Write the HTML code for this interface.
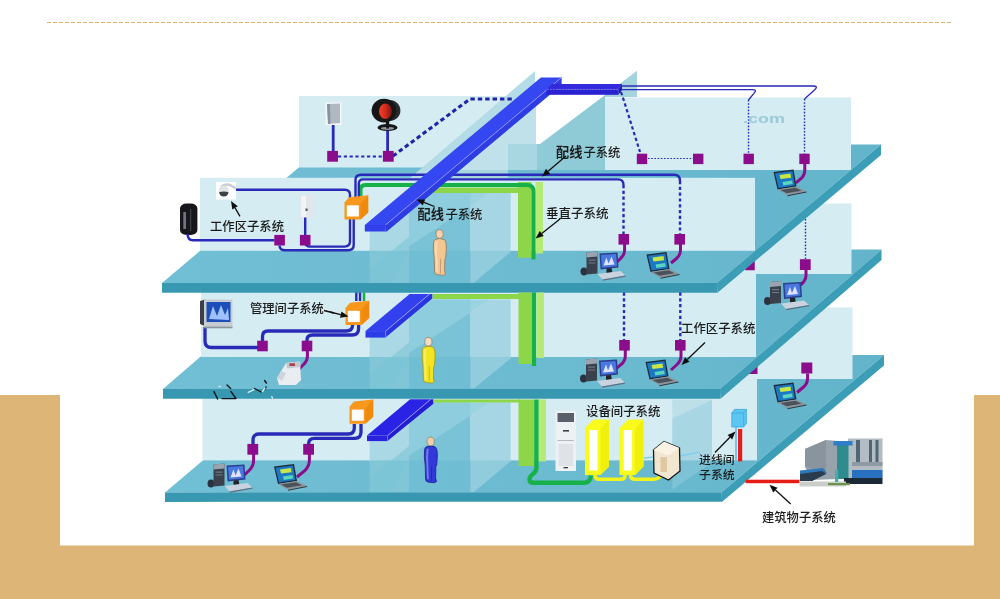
<!DOCTYPE html>
<html><head><meta charset="utf-8"><title>综合布线系统</title>
<style>html,body{margin:0;padding:0;background:#fff;font-family:"Liberation Sans",sans-serif}svg{display:block}</style>
</head><body>
<svg width="1000" height="599" viewBox="0 0 1000 599">
<defs><linearGradient id="gt145" gradientUnits="userSpaceOnUse" x1="160" y1="0" x2="885" y2="0"><stop offset="0" stop-color="#71BFD5"/><stop offset=".6" stop-color="#6BBAD0"/><stop offset="1" stop-color="#62B4CB"/></linearGradient><linearGradient id="gt249" gradientUnits="userSpaceOnUse" x1="160" y1="0" x2="885" y2="0"><stop offset="0" stop-color="#71BFD5"/><stop offset=".6" stop-color="#6BBAD0"/><stop offset="1" stop-color="#62B4CB"/></linearGradient><linearGradient id="gt355" gradientUnits="userSpaceOnUse" x1="160" y1="0" x2="885" y2="0"><stop offset="0" stop-color="#71BFD5"/><stop offset=".6" stop-color="#6BBAD0"/><stop offset="1" stop-color="#62B4CB"/></linearGradient><linearGradient id="redg" x1="0" y1="0" x2="1" y2="0"><stop offset="0" stop-color="#F0442C"/><stop offset=".5" stop-color="#D42A1C"/><stop offset="1" stop-color="#7E1712"/></linearGradient><filter id="soft" x="-2%" y="-2%" width="104%" height="104%"><feGaussianBlur stdDeviation="0.65"/></filter></defs>
<rect x="0" y="0" width="1000" height="599" fill="#fff"/>
<rect x="0" y="395" width="1000" height="204" fill="#DDB576" />
<rect x="60" y="300" width="914" height="245.5" fill="#fff" />
<line x1="47" y1="22.5" x2="953" y2="22.5" stroke="#DDB06A" stroke-width="1.2" stroke-dasharray="4 2"/>
<g filter="url(#soft)">
<polygon points="165,492.4 721.6,492.2 884,355 327.4,355.2" fill="url(#gt355)" />
<polygon points="884,355 884,365.5 722.1,501.7 721.6,492.2" fill="#3A9DB6" />
<polygon points="165,492.4 721.6,492.2 722.1,501.7 165,501.9" fill="#3898B1" />
<rect x="700" y="307.5" width="152.5" height="71.5" fill="#D4ECF2" />
<rect x="202.5" y="357" width="554.5" height="103.4" fill="#D4ECF2" />
<rect x="748.5" y="365" width="9" height="9" fill="#8C0A8C" />
<polygon points="163,389 720,389 881.5,249.5 324.5,249.5" fill="url(#gt249)" />
<polygon points="881.5,249.5 881.5,260 720.5,398.8 720,389" fill="#3A9DB6" />
<polygon points="163,389 720,389 720.5,398.8 163,398.8" fill="#3898B1" />
<rect x="700" y="203.5" width="151.5" height="70.5" fill="#D4ECF2" />
<rect x="201" y="252" width="555" height="105" fill="#D4ECF2" />
<rect x="745.25" y="260.75" width="9.5" height="9.5" fill="#8C0A8C" />
<polygon points="162,283 717,283 881,144.5 326,144.5" fill="url(#gt145)" />
<polygon points="881,144.5 881,155 717.5,292.7 717,283" fill="#3A9DB6" />
<polygon points="162,283 717,283 717.5,292.7 162,292.7" fill="#3898B1" />
<rect x="299" y="96" width="237" height="71.5" fill="#D4ECF2" />
<rect x="605" y="97.5" width="246" height="72.5" fill="#D4ECF2" />
<rect x="200" y="177.8" width="555" height="73" fill="#D4ECF2" />
<!--DETAIL-->
<polygon points="536,106.5 536,170 460,170" fill="#C0E1EA" />
<polygon points="441,170 508,170 508,178 431.5,178" fill="#A6D5E0" />
<polygon points="637,71 637,97 605,97 605,170 508,170 508,144 540,144" fill="#8FCAD7" />
<rect x="508" y="144" width="29" height="26" fill="#A9D7E1" />
<polygon points="637,71 637,97 605,97" fill="#A6D4DE" />
<polygon points="535,71 535,98 440,178 410,178" fill="#B4DCE6" />
<polygon points="369.6,282.8 369.6,231 409,199 409,282.8" fill="rgba(142,203,218,.60)" />
<rect x="409" y="193" width="61.4" height="89.8" fill="rgba(112,190,211,.90)" />
<polygon points="409,193 490.6,193 470.4,206.2 409,246.3" fill="rgba(146,207,222,.85)" />
<polygon points="369.6,282.8 369.6,268.8 409,236.8 409,252.8 391.6,282.8" fill="rgba(120,196,214,.55)" />
<polygon points="470.4,206.2 490.6,193 510.7,193 510.7,251.8 473.9,282.8 470.4,282.8" fill="rgba(154,209,224,.80)" />
<rect x="432" y="187.5" width="87" height="5.5" fill="#8ED64A" />
<rect x="518" y="182" width="13.5" height="75.7" fill="#8ED64A" />
<rect x="535.5" y="182" width="7.5" height="71.5" fill="#B4EA74" />
<path d="M360.5 196 L360.5 190 Q360.5 185 365.5 185 L527 185 Q533.5 185 533.5 191.5 L533.5 259.5" fill="none" stroke="#18B24A" stroke-width="4" />
<path d="M355.5 200 L355.5 180 Q355.5 174.8 361 174.8 L674 174.8 Q680 174.8 680 181" fill="none" stroke="#2A2AB8" stroke-width="2.4" />
<path d="M358.8 200 L358.8 184 Q358.8 179.4 363 179.4 L618 179.4 Q623.5 179.4 623.5 185" fill="none" stroke="#2A2AB8" stroke-width="2.4" />
<path d="M680 181 L680 235" fill="none" stroke="#2A2AB8" stroke-width="2.4" stroke-dasharray="3.2 2.6"/>
<path d="M623.5 185 L623.5 235" fill="none" stroke="#2A2AB8" stroke-width="2.4" stroke-dasharray="3.2 2.6"/>
<polygon points="364.8,225 385.5,225 561.634,77.4 540.934,77.4" fill="#3447F0" />
<polygon points="385.5,225 386.8,231.5 562.814,84 561.634,84 561.634,77.4" fill="#2E3CE2" />
<line x1="385.5" y1="225" x2="561.634" y2="77.4" stroke="#8c8cff" stroke-width="1"/>
<rect x="364.8" y="225" width="20.7" height="6.5" fill="#3040EA" />
<polygon points="385.5,225 386.8,225.5 386.8,231.5 385.5,231.5" fill="#2a2ed6" />
<polygon points="552,84 622,84 618.5,89.4 546.5,89.4" fill="#3329DC" />
<rect x="546.5" y="89.4" width="72" height="5.4" fill="#2A20D0" />
<polygon points="618.5,89.4 622,84 622,90 618.5,94.8" fill="#2218B4" />
<line x1="547" y1="89.4" x2="618.5" y2="89.4" stroke="#7a76f4" stroke-width=".8" stroke-dasharray="2 1"/>
<path d="M621 86 L813 86 Q818.5 86 815 89.5 L804.5 99" fill="none" stroke="#2A2AB8" stroke-width="1.3" />
<path d="M621 89.6 L752 89.6 Q757.5 89.6 754.5 92.6 L748.5 100" fill="none" stroke="#2A2AB8" stroke-width="1.3" />
<path d="M804.5 99 L804.5 154" fill="none" stroke="#2A2AB8" stroke-width="1.4" stroke-dasharray="1.6 1.6"/>
<path d="M748.5 100 L748.5 154" fill="none" stroke="#2A2AB8" stroke-width="1.4" stroke-dasharray="1.6 1.6"/>
<path d="M621 92 L624 101 L640 152" fill="none" stroke="#2A2AB8" stroke-width="2.2" stroke-dasharray="3.4 2.6"/>
<path d="M648 158.5 L693 158.5" fill="none" stroke="#2A2AB8" stroke-width="1.2" stroke-dasharray="1.6 1.6"/>
<rect x="636.8" y="153.7" width="10.4" height="10.4" fill="#8C0A8C" />
<rect x="693" y="153.7" width="10.4" height="10.4" fill="#8C0A8C" />
<rect x="743.5" y="153.7" width="10.4" height="10.4" fill="#8C0A8C" />
<rect x="799.3" y="153.7" width="10.4" height="10.4" fill="#8C0A8C" />
<text x="743" y="123" font-family="Liberation Sans, sans-serif" font-weight="bold" font-size="13.5" fill="#9CC9D8" textLength="42" lengthAdjust="spacingAndGlyphs">.com</text>
<rect x="325.5" y="102.5" width="16" height="22.5" fill="#f4f8fa" />
<polygon points="327,104 340,103.5 340,123 328,124" fill="#AEB9C2" />
<polygon points="327,104 330,104 330.5,123.8 328,124" fill="#8594A0" />
<path d="M333.2 125 L333.2 152" fill="none" stroke="#2A2AB8" stroke-width="2.8" />
<ellipse cx="389.6" cy="110.6" rx="10.8" ry="10.6" fill="#2b2b2f"/>
<ellipse cx="384" cy="110.6" rx="12.4" ry="11.9" fill="#141416"/>
<ellipse cx="385.4" cy="111.2" rx="6.4" ry="7.8" fill="url(#redg)"/>
<rect x="385.8" y="120.5" width="3.4" height="7" fill="#141416" />
<ellipse cx="387.5" cy="127.5" rx="10" ry="3.6" fill="#19191b"/>
<ellipse cx="387.5" cy="128.4" rx="6.6" ry="1.5" fill="#8f989f"/>
<rect x="386.3" y="124" width="2.6" height="4.6" fill="#141416" />
<path d="M387.6 131 L387.6 152" fill="none" stroke="#2A2AB8" stroke-width="2.8" />
<path d="M338 156.4 L383 156.4" fill="none" stroke="#2A2AB8" stroke-width="2" stroke-dasharray="3.2 2.6"/>
<path d="M393 156 L470 99 L513 99" fill="none" stroke="#2323A6" stroke-width="3.1" stroke-dasharray="4.4 3"/>
<rect x="327.2" y="150.9" width="10.8" height="10.8" fill="#8C0A8C" />
<rect x="382.9" y="150.9" width="10.8" height="10.8" fill="#8C0A8C" />
<rect x="216" y="182" width="20" height="17.5" fill="#fbfdfe" />
<path d="M221 187 Q227 181.5 235.5 188.5" fill="none" stroke="#c9cdd2" stroke-width="2.4" />
<ellipse cx="223.8" cy="190.8" rx="5" ry="5.2" fill="#dfe2e6"/>
<path d="M219 192.2 Q223.8 190.6 228.6 192.2 Q227.8 196.4 223.8 196.4 Q219.8 196.4 219 192.2Z" fill="#3d4148"/>
<path d="M236 189.7 L345 189.7 Q350 189.7 350 195 L350 241 Q350 246.6 344.5 246.6 L310.5 246.6 Q305.2 246.6 305.2 242" fill="none" stroke="#2A2AB8" stroke-width="2.4" />
<path d="M353.7 218 L353.7 245 Q353.7 250.3 348 250.3 L285 250.3 Q279.6 250.3 279.6 245.5" fill="none" stroke="#2A2AB8" stroke-width="2.4" />
<rect x="180" y="203.5" width="17.4" height="31.5" rx="6.5" ry="5" fill="#16181b"/>
<rect x="183.3" y="212" width="2.7" height="17" fill="#6f757c" />
<rect x="190" y="209" width="1.2" height="22" fill="#3b4046" />
<path d="M187.6 234 Q187.6 240.2 193 240.2 L274.5 240.2" fill="none" stroke="#2A2AB8" stroke-width="2.4" />
<rect x="300" y="195" width="14" height="23" fill="#E2E6EB" />
<rect x="301" y="196" width="5" height="21" fill="#F2F5F8" />
<rect x="305.5" y="208.5" width="2.1" height="2.5" fill="#555c66" />
<path d="M305.2 217.5 L305.2 236" fill="none" stroke="#2A2AB8" stroke-width="2.4" />
<rect x="274.3" y="234.9" width="10.6" height="10.6" fill="#8C0A8C" />
<rect x="299.9" y="234.9" width="10.6" height="10.6" fill="#8C0A8C" />
<g transform="translate(344 195)">
<polygon points="0.5,7.5 5,2.2 24.2,0.3 24.2,17.5 16.5,24.5 0.5,24.5" fill="#F7971C" />
<polygon points="16.5,9 24.2,0.3 24.2,17.5 16.5,24.5" fill="#F08A10" />
<rect x="2.8" y="10.3" width="12" height="11.2" fill="#ffffff" />
</g>
<rect x="618.5" y="234" width="10.6" height="10.6" fill="#8C0A8C" />
<rect x="674.4" y="234" width="10.6" height="10.6" fill="#8C0A8C" />
<path d="M624.6 244 L624.6 250 Q624.6 255 620.5 258.5 L616.5 262.5" fill="none" stroke="#8C0A8C" stroke-width="3" />
<path d="M680.5 244 L680.5 250 Q680.5 255 676.5 258.5 L671 263" fill="none" stroke="#8C0A8C" stroke-width="3" />
<g transform="translate(580.5 251.5)">
<ellipse cx="3.5" cy="20" rx="3.5" ry="4" fill="#2b3340"/>
<polygon points="6,1 17,0 17,22 6,23" fill="#3b414d" />
<polygon points="6,1 17,0 17,5 6,6" fill="#9aa3b0" />
<rect x="8" y="8" width="7" height="1.2" fill="#707988" />
<rect x="8" y="11" width="7" height="1" fill="#707988" />
<polygon points="19,2 37,1 38,16 20,18" fill="#2b3f8f" />
<polygon points="20.5,3.5 35.5,2.5 36.5,14.5 21.5,16.2" fill="#4a78e0" />
<polygon points="23,14 26,6 28,12 31,5 34,13" fill="#dfe3ff" />
<polygon points="26,17 31,16.5 32,22 26,22.5" fill="#20242c" />
<polygon points="17,22.5 40,19.5 45,24 22,28" fill="#c9d3df" />
<polygon points="22,28 45,24 45,25.2 22,29.2" fill="#5f6f82" />
</g>
<g transform="translate(646.5 252)">
<polygon points="0,2.5 20,0 23,17 4,20" fill="#1f2a3a" />
<polygon points="1.5,3.8 19,1.6 21.4,16 5,18.6" fill="#1d78c0" />
<polygon points="6,5.5 17,4 17.6,8.2 7,9.6" fill="#c9e64a" />
<polygon points="9,12.4 18.6,11 19.2,14.6 9.8,16" fill="#58d6c0" />
<polygon points="4,20 23,17 33,22 14,25.8" fill="#8c949c" />
<polygon points="7,20.6 22,18.3 28,21.2 13,23.8" fill="#4b525a" />
<polygon points="14,25.8 33,22 33,23 14,26.8" fill="#30353b" />
</g>
<path d="M804.8 164 L804.8 170 Q804.8 175.5 800.5 179 L796 183" fill="none" stroke="#8C0A8C" stroke-width="3" />
<g transform="translate(773.5 169.5)">
<polygon points="0,2.5 20,0 23,17 4,20" fill="#1f2a3a" />
<polygon points="1.5,3.8 19,1.6 21.4,16 5,18.6" fill="#1d78c0" />
<polygon points="6,5.5 17,4 17.6,8.2 7,9.6" fill="#c9e64a" />
<polygon points="9,12.4 18.6,11 19.2,14.6 9.8,16" fill="#58d6c0" />
<polygon points="4,20 23,17 33,22 14,25.8" fill="#8c949c" />
<polygon points="7,20.6 22,18.3 28,21.2 13,23.8" fill="#4b525a" />
<polygon points="14,25.8 33,22 33,23 14,26.8" fill="#30353b" />
</g>
<g transform="translate(432 229.6)">
<path d="M3 10 Q7.5 7.6 12.4 10 Q14.6 12 14.3 20 L13.7 28 L12.9 29.4 L12.6 41 L13.6 44.4 Q12 46.2 9 45.6 L4.6 44.9 Q2.5 44.5 2.6 42 L2.2 28 Q0.8 20 1.5 13 Q2 10.6 3 10Z" fill="#F6C690" stroke="#8a7660" stroke-width=".8"/>
<path d="M3.6 12 Q2.6 20 3.6 30 L4 42 L5.8 42.5 L5.4 30 Q4.6 20 5.6 11.4Z" fill="rgba(255,255,255,.35)"/>
<path d="M8.6 29 L8.4 44" stroke="#8a7660" stroke-width=".5" fill="none"/>
<ellipse cx="7.6" cy="4.4" rx="3.6" ry="4.3" fill="#F8D2A8" stroke="#8c7a66" stroke-width=".7"/>
</g>
<polygon points="369.6,388.6 369.6,337.6 409,305.6 409,388.6" fill="rgba(142,203,218,.60)" />
<rect x="409" y="299.6" width="61.4" height="89" fill="rgba(112,190,211,.90)" />
<polygon points="409,299.6 490.6,299.6 470.4,312.8 409,352.9" fill="rgba(146,207,222,.85)" />
<polygon points="369.6,388.6 369.6,374.6 409,342.6 409,358.6 391.6,388.6" fill="rgba(120,196,214,.55)" />
<polygon points="470.4,312.8 490.6,299.6 510.7,299.6 510.7,358.4 473.9,388.6 470.4,388.6" fill="rgba(154,209,224,.80)" />
<rect x="432.5" y="294" width="86.5" height="5" fill="#8ED64A" />
<rect x="518.5" y="292.5" width="13.5" height="71.5" fill="#8ED64A" />
<rect x="536.5" y="292.5" width="7.5" height="65.5" fill="#B4EA74" />
<path d="M534 292.5 L534 366" fill="none" stroke="#18B24A" stroke-width="4.2" />
<path d="M356.3 292.5 L356.3 301" fill="none" stroke="#2A2AB8" stroke-width="2.4" />
<path d="M360 292.5 L360 301" fill="none" stroke="#2A2AB8" stroke-width="2.4" />
<path d="M364 292.5 L364 301" fill="none" stroke="#18B24A" stroke-width="2.6" />
<polygon points="365.5,331.1 385.6,331.1 429.714,294 409.614,294" fill="#3040EE" />
<polygon points="385.6,331.1 385.6,337.6 388.2,335.3 432.314,298.4 432.314,294 429.714,294" fill="#2A36E0" />
<line x1="385.6" y1="331.1" x2="429.714" y2="294" stroke="#9aa2ff" stroke-width=".9"/>
<rect x="365.5" y="331.1" width="20.1" height="6.5" fill="#2C3AE8" />
<line x1="385.6" y1="331.1" x2="385.6" y2="337.6" stroke="#8890ff" stroke-width=".7"/>
<path d="M624 292.5 L624 341" fill="none" stroke="#2A2AB8" stroke-width="2.4" stroke-dasharray="3.2 2.6"/>
<path d="M680.3 292.5 L680.3 341" fill="none" stroke="#2A2AB8" stroke-width="2.4" stroke-dasharray="3.2 2.6"/>
<rect x="619.2" y="340" width="10.6" height="10.6" fill="#8C0A8C" />
<rect x="675" y="340" width="10.6" height="10.6" fill="#8C0A8C" />
<path d="M625.3 350 L625.3 356 Q625.3 361 621 364.5 L616.5 368.5" fill="none" stroke="#8C0A8C" stroke-width="3" />
<path d="M681 350 L681 356 Q681 361 676.5 365 L671 370" fill="none" stroke="#8C0A8C" stroke-width="3" />
<g transform="translate(580 358.5)">
<ellipse cx="3.5" cy="20" rx="3.5" ry="4" fill="#2b3340"/>
<polygon points="6,1 17,0 17,22 6,23" fill="#3b414d" />
<polygon points="6,1 17,0 17,5 6,6" fill="#9aa3b0" />
<rect x="8" y="8" width="7" height="1.2" fill="#707988" />
<rect x="8" y="11" width="7" height="1" fill="#707988" />
<polygon points="19,2 37,1 38,16 20,18" fill="#2b3f8f" />
<polygon points="20.5,3.5 35.5,2.5 36.5,14.5 21.5,16.2" fill="#4a78e0" />
<polygon points="23,14 26,6 28,12 31,5 34,13" fill="#dfe3ff" />
<polygon points="26,17 31,16.5 32,22 26,22.5" fill="#20242c" />
<polygon points="17,22.5 40,19.5 45,24 22,28" fill="#c9d3df" />
<polygon points="22,28 45,24 45,25.2 22,29.2" fill="#5f6f82" />
</g>
<g transform="translate(645.5 359.5)">
<polygon points="0,2.5 20,0 23,17 4,20" fill="#1f2a3a" />
<polygon points="1.5,3.8 19,1.6 21.4,16 5,18.6" fill="#1d78c0" />
<polygon points="6,5.5 17,4 17.6,8.2 7,9.6" fill="#c9e64a" />
<polygon points="9,12.4 18.6,11 19.2,14.6 9.8,16" fill="#58d6c0" />
<polygon points="4,20 23,17 33,22 14,25.8" fill="#8c949c" />
<polygon points="7,20.6 22,18.3 28,21.2 13,23.8" fill="#4b525a" />
<polygon points="14,25.8 33,22 33,23 14,26.8" fill="#30353b" />
</g>
<path d="M205 327 L205 341 Q205 347.5 211.5 347.5 L258 347.5" fill="none" stroke="#2A2AB8" stroke-width="3.3" />
<path d="M262.5 342 L262.5 336.5 Q262.5 331 268 331 L346 331 Q352.6 331 352.6 325" fill="none" stroke="#2A2AB8" stroke-width="3.3" />
<path d="M307 342 L307 340 Q307 335 312.5 335 L352 335 Q358.6 335 358.6 328.5 L358.6 325" fill="none" stroke="#2A2AB8" stroke-width="3.3" />
<rect x="257.2" y="340.7" width="10.6" height="10.6" fill="#8C0A8C" />
<rect x="301.7" y="340.7" width="10.6" height="10.6" fill="#8C0A8C" />
<path d="M307.4 351 L307.4 356 Q307.4 361 303.5 364.5 L298 370" fill="none" stroke="#8C0A8C" stroke-width="3" />
<polygon points="200,301 205,299.5 205,326 200,324" fill="#3a3f46" />
<rect x="204" y="299.5" width="28.5" height="27" fill="#c7ccd3" />
<rect x="206.5" y="302" width="24" height="20" fill="#1b4fb8" />
<polygon points="209,319 213,306 217,316 221,305 225,315 228,308 229,320" fill="#9fc2ff" />
<rect x="204" y="326.5" width="28.5" height="1.8" fill="#8d949c" />
<polygon points="277,378 286,363 300,361.5 301,380 296,385 279,385" fill="#e9edf1" />
<polygon points="286,363 300,361.5 300.5,367 287,368.5" fill="#c2c9d1" />
<rect x="289.5" y="363.3" width="5.5" height="2.7" fill="#b03a4a" />
<polygon points="277,378 281,371 286,373 282,381" fill="#cfd5dc" />
<g transform="translate(345 300.5)">
<polygon points="0.5,7.5 5,2.2 24.2,0.3 24.2,17.5 16.5,24.5 0.5,24.5" fill="#F7971C" />
<polygon points="16.5,9 24.2,0.3 24.2,17.5 16.5,24.5" fill="#F08A10" />
<rect x="2.8" y="10.3" width="12" height="11.2" fill="#ffffff" />
</g>
<g transform="translate(420.8 337.3)">
<path d="M3 10 Q7.5 7.6 12.4 10 Q14.6 12 14.3 20 L13.7 28 L12.9 29.4 L12.6 41 L13.6 44.4 Q12 46.2 9 45.6 L4.6 44.9 Q2.5 44.5 2.6 42 L2.2 28 Q0.8 20 1.5 13 Q2 10.6 3 10Z" fill="#F3E420" stroke="#9a9420" stroke-width=".8"/>
<path d="M3.6 12 Q2.6 20 3.6 30 L4 42 L5.8 42.5 L5.4 30 Q4.6 20 5.6 11.4Z" fill="rgba(255,255,255,.35)"/>
<path d="M8.6 29 L8.4 44" stroke="#9a9420" stroke-width=".5" fill="none"/>
<ellipse cx="7.6" cy="4.4" rx="3.6" ry="4.3" fill="#F6DCC0" stroke="#8c7a66" stroke-width=".7"/>
</g>
<path d="M805.5 219 L805.5 259" fill="none" stroke="#2A2AB8" stroke-width="1.4" stroke-dasharray="1.6 1.6"/>
<rect x="799.9" y="259.2" width="10.8" height="10.8" fill="#8C0A8C" />
<path d="M806 270 L806 275 Q806 280 802 283.5 L798.5 286.5" fill="none" stroke="#8C0A8C" stroke-width="3" />
<g transform="translate(764 281)">
<ellipse cx="3.5" cy="20" rx="3.5" ry="4" fill="#2b3340"/>
<polygon points="6,1 17,0 17,22 6,23" fill="#3b414d" />
<polygon points="6,1 17,0 17,5 6,6" fill="#9aa3b0" />
<rect x="8" y="8" width="7" height="1.2" fill="#707988" />
<rect x="8" y="11" width="7" height="1" fill="#707988" />
<polygon points="19,2 37,1 38,16 20,18" fill="#2b3f8f" />
<polygon points="20.5,3.5 35.5,2.5 36.5,14.5 21.5,16.2" fill="#4a78e0" />
<polygon points="23,14 26,6 28,12 31,5 34,13" fill="#dfe3ff" />
<polygon points="26,17 31,16.5 32,22 26,22.5" fill="#20242c" />
<polygon points="17,22.5 40,19.5 45,24 22,28" fill="#c9d3df" />
<polygon points="22,28 45,24 45,25.2 22,29.2" fill="#5f6f82" />
</g>
<path d="M227 385 L230.6 388.5 M214 391.6 L217.6 399 M222 398.6 L236 398.6 M231 391.6 L235.6 398 M254.5 388.5 L261 392 M264.6 380.5 L266.4 383 M266 387 L264.8 389.5" fill="none" stroke="#10141c" stroke-width="1.4" stroke-linecap="round"/>
<path d="M219 386.5 l1.2 0 M248.2 392.4 L254 389.6 M271.8 396.5 l.6 1.6 M262.5 391.5 L265 388.2" fill="none" stroke="#d9eef4" stroke-width="1.3" stroke-linecap="round"/>
<polygon points="369.6,492 369.6,440.5 409,408.5 409,492" fill="rgba(142,203,218,.60)" />
<rect x="409" y="402.5" width="61.4" height="89.5" fill="rgba(112,190,211,.90)" />
<polygon points="409,402.5 490.6,402.5 470.4,415.7 409,455.8" fill="rgba(146,207,222,.85)" />
<polygon points="369.6,492 369.6,478 409,446 409,462 391.6,492" fill="rgba(120,196,214,.55)" />
<polygon points="470.4,415.7 490.6,402.5 510.7,402.5 510.7,461.3 473.9,492 470.4,492" fill="rgba(154,209,224,.80)" />
<rect x="434" y="399.5" width="86" height="3" fill="#8ED64A" />
<rect x="518.5" y="399.5" width="16" height="66.5" fill="#8ED64A" />
<rect x="538.4" y="399.5" width="7.6" height="62" fill="#B4EA74" />
<path d="M536.4 399.5 L536.4 468 Q536.4 471.5 533 474 Q529.5 476.5 529.5 479.5 Q529.5 482.8 534 482.8 L584 482.8 Q590 482.8 591 475.5" fill="none" stroke="#18B24A" stroke-width="4.4" />
<polygon points="367,435.6 387.6,435.6 430.763,399.3 410.163,399.3" fill="#2B22E4" />
<polygon points="387.6,435.6 387.6,441.1 390.2,438.8 433.363,403.7 433.363,399.3 430.763,399.3" fill="#261CD6" />
<line x1="387.6" y1="435.6" x2="430.763" y2="399.3" stroke="#9aa2ff" stroke-width=".9"/>
<rect x="367" y="435.6" width="20.6" height="5.5" fill="#2A20DE" />
<line x1="387.6" y1="435.6" x2="387.6" y2="441.1" stroke="#8890ff" stroke-width=".7"/>
<g transform="translate(349 399.3)">
<polygon points="0.5,7.5 5,2.2 24.2,0.3 24.2,17.5 16.5,24.5 0.5,24.5" fill="#F7971C" />
<polygon points="16.5,9 24.2,0.3 24.2,17.5 16.5,24.5" fill="#F08A10" />
<rect x="2.8" y="10.3" width="12" height="11.2" fill="#ffffff" />
</g>
<path d="M354.3 424 L354.3 428 Q354.3 434 348 434 L259 434 Q253 434 253 440 L253 445" fill="none" stroke="#2A2AB8" stroke-width="3.3" />
<path d="M361 424 L361 432 Q361 438.3 355 438.3 L314.5 438.3 Q308.6 438.3 308.6 444" fill="none" stroke="#2A2AB8" stroke-width="3.3" />
<rect x="247.4" y="443.9" width="10.8" height="10.8" fill="#8C0A8C" />
<rect x="303.2" y="443.9" width="10.8" height="10.8" fill="#8C0A8C" />
<path d="M253.6 454 L253.6 460 Q253.6 466 249.5 470 L244.5 475" fill="none" stroke="#8C0A8C" stroke-width="3" />
<path d="M309.4 454 L309.4 460 Q309.4 466 305 470.5 L297 477" fill="none" stroke="#8C0A8C" stroke-width="3" />
<g transform="translate(207.5 463.5)">
<ellipse cx="3.5" cy="20" rx="3.5" ry="4" fill="#2b3340"/>
<polygon points="6,1 17,0 17,22 6,23" fill="#3b414d" />
<polygon points="6,1 17,0 17,5 6,6" fill="#9aa3b0" />
<rect x="8" y="8" width="7" height="1.2" fill="#707988" />
<rect x="8" y="11" width="7" height="1" fill="#707988" />
<polygon points="19,2 37,1 38,16 20,18" fill="#2b3f8f" />
<polygon points="20.5,3.5 35.5,2.5 36.5,14.5 21.5,16.2" fill="#4a78e0" />
<polygon points="23,14 26,6 28,12 31,5 34,13" fill="#dfe3ff" />
<polygon points="26,17 31,16.5 32,22 26,22.5" fill="#20242c" />
<polygon points="17,22.5 40,19.5 45,24 22,28" fill="#c9d3df" />
<polygon points="22,28 45,24 45,25.2 22,29.2" fill="#5f6f82" />
</g>
<g transform="translate(274 464)">
<polygon points="0,2.5 20,0 23,17 4,20" fill="#1f2a3a" />
<polygon points="1.5,3.8 19,1.6 21.4,16 5,18.6" fill="#1d78c0" />
<polygon points="6,5.5 17,4 17.6,8.2 7,9.6" fill="#c9e64a" />
<polygon points="9,12.4 18.6,11 19.2,14.6 9.8,16" fill="#58d6c0" />
<polygon points="4,20 23,17 33,22 14,25.8" fill="#8c949c" />
<polygon points="7,20.6 22,18.3 28,21.2 13,23.8" fill="#4b525a" />
<polygon points="14,25.8 33,22 33,23 14,26.8" fill="#30353b" />
</g>
<g transform="translate(423 437)">
<path d="M3 10 Q7.5 7.6 12.4 10 Q14.6 12 14.3 20 L13.7 28 L12.9 29.4 L12.6 41 L13.6 44.4 Q12 46.2 9 45.6 L4.6 44.9 Q2.5 44.5 2.6 42 L2.2 28 Q0.8 20 1.5 13 Q2 10.6 3 10Z" fill="#3038DA" stroke="#1c2090" stroke-width=".8"/>
<path d="M3.6 12 Q2.6 20 3.6 30 L4 42 L5.8 42.5 L5.4 30 Q4.6 20 5.6 11.4Z" fill="rgba(255,255,255,.35)"/>
<path d="M8.6 29 L8.4 44" stroke="#1c2090" stroke-width=".5" fill="none"/>
<ellipse cx="7.6" cy="4.4" rx="3.6" ry="4.3" fill="#F2CFA8" stroke="#8c7a66" stroke-width=".7"/>
</g>
<rect x="555.5" y="411" width="20.5" height="60" fill="#eef1f4" />
<rect x="557.5" y="413" width="16.5" height="9" fill="#5a6069" />
<rect x="557.5" y="440" width="16.5" height="1" fill="#b4bac2" />
<rect x="558.5" y="444" width="14.5" height="22" fill="#dfe3e8" />
<rect x="563" y="430" width="6" height="1.6" fill="#39404a" />
<rect x="563.5" y="467" width="4.5" height="1.3" fill="#39404a" />
<polygon points="585,428 593.5,419.5 609,419.5 609,466.5 600.5,475 585,475" fill="#FAFA1E" />
<polygon points="600.5,428.5 609,419.5 609,466.5 600.5,475" fill="#F0F010" />
<rect x="589.2" y="430" width="8.4" height="40.5" fill="#ffffff" />
<polygon points="619.5,428 628,419.5 643.5,419.5 643.5,466.5 635,475 619.5,475" fill="#FAFA1E" />
<polygon points="635,428.5 643.5,419.5 643.5,466.5 635,475" fill="#F0F010" />
<rect x="623.7" y="430" width="8.4" height="40.5" fill="#ffffff" />
<path d="M595 474 L595 475 Q595 479.2 599 479.2 L620.5 479.2 Q625 479.2 625 475.5 L625 474" fill="none" stroke="#F2F21A" stroke-width="3.6" />
<path d="M630.5 474 L630.5 475 Q630.5 479.2 635 479.2 L654 479.2 Q658.5 479.2 662 474.5" fill="none" stroke="#F2F21A" stroke-width="3.6" />
<polygon points="672.3,399.5 712,399.5 672.3,418.6" fill="#BCDFE8" />
<polygon points="672.3,418.6 712,399.8 712,462.4 672.3,489.6" fill="rgba(140,200,218,.62)" />
<path d="M644 458 L654 457" fill="none" stroke="#7fd0ee" stroke-width="1.6" />
<path d="M680 456 L700 452" fill="none" stroke="#7fd0ee" stroke-width="1.6" />
<polygon points="653.5,450 664,441.5 679.5,448 680,471 668.5,480 654,473" fill="#f1e6cf" stroke="#15171a" stroke-width="1.3"/>
<polygon points="664,441.5 679.5,448 668,455.5 653.5,450" fill="#faf3e4" />
<rect x="660.5" y="457" width="6.5" height="15" fill="#e0c9a0" />
<path d="M736 426 L736 463.5" fill="none" stroke="#63c5ee" stroke-width="1.8" />
<rect x="738" y="429" width="4.2" height="32.4" fill="#E81C14" />
<path d="M731.8 413 L734.5 409.4 L746.4 409.4 L746.4 423.5 L743.6 427 L731.8 427Z" fill="#5CC6F2" stroke="#38A6DC" stroke-width=".8" stroke-linejoin="round"/>
<path d="M731.8 413 L743.6 413 L743.6 427 M743.6 413 L746.4 409.4" fill="none" stroke="#38A6DC" stroke-width="0.7" />
<rect x="745.6" y="479.7" width="54.4" height="3.5" fill="#E81C14" />
<rect x="801.3" y="362.5" width="11" height="11" fill="#8C0A8C" />
<path d="M807.6 373.5 L807.6 378 Q807.6 383.5 803.5 387 L797 392.5" fill="none" stroke="#8C0A8C" stroke-width="3" />
<g transform="translate(773.5 382.5)">
<polygon points="0,2.5 20,0 23,17 4,20" fill="#1f2a3a" />
<polygon points="1.5,3.8 19,1.6 21.4,16 5,18.6" fill="#1d78c0" />
<polygon points="6,5.5 17,4 17.6,8.2 7,9.6" fill="#c9e64a" />
<polygon points="9,12.4 18.6,11 19.2,14.6 9.8,16" fill="#58d6c0" />
<polygon points="4,20 23,17 33,22 14,25.8" fill="#8c949c" />
<polygon points="7,20.6 22,18.3 28,21.2 13,23.8" fill="#4b525a" />
<polygon points="14,25.8 33,22 33,23 14,26.8" fill="#30353b" />
</g>
<g>
<rect x="799.5" y="437" width="83" height="49.4" fill="#ffffff" />
<polygon points="805,449 826,440 838,441 838,479 812,480 805,467" fill="#98A2AB" />
<polygon points="805,449 826,440 826,474 805,466" fill="#8A949E" />
<rect x="848" y="438.5" width="34.5" height="40.5" fill="#B4BCC3" />
<rect x="837" y="443" width="11.5" height="36" fill="#2E8C8E" />
<rect x="833.5" y="441" width="19" height="4.5" fill="#2E7DC8" />
<rect x="856" y="440" width="4" height="22" fill="#4F6676" />
<rect x="869" y="440" width="3" height="22" fill="#4F6676" />
<rect x="875.5" y="440" width="3" height="22" fill="#4F6676" />
<rect x="852" y="462" width="30.5" height="4" fill="#8f99a3" />
<polygon points="800,470.5 823,468 827,473 812,481 800,481" fill="#2F78B8" />
<polygon points="800,474 822,471 826,474 812,481 800,481" fill="#2a3a4c" />
<rect x="852" y="470" width="30.5" height="8" fill="#2C70C0" />
<rect x="844" y="478" width="38.5" height="6" fill="#1F2B38" />
<rect x="799.5" y="481.5" width="46.5" height="4.9" fill="#C9CEC9" />
<rect x="828" y="483" width="22" height="2.2" fill="#6E9350" />
<rect x="835" y="470" width="3.3" height="12" fill="#49A9B0" />
</g>
<text x="210" y="231.17" font-family="'Liberation Sans','Noto Sans CJK SC',sans-serif" font-size="12.35" font-weight="500" fill="#1c1c1c">工作区子系统</text>
<line x1="240" y1="216.4" x2="235.037" y2="207.907" stroke="#111" stroke-width="1.3"/>
<polygon points="231,201 237.799,206.292 232.274,209.522" fill="#111" />
<text x="417.5" y="218.95" font-family="'Liberation Sans','Noto Sans CJK SC',sans-serif" font-size="13.2" font-weight="bold" fill="#1c1c1c">配线</text>
<text x="445.5" y="218.62" font-family="'Liberation Sans','Noto Sans CJK SC',sans-serif" font-size="12.3" font-weight="500" fill="#1c1c1c">子系统</text>
<line x1="434.5" y1="206.5" x2="423.956" y2="202.4" stroke="#111" stroke-width="1.3"/>
<polygon points="416.5,199.5 425.116,199.417 422.796,205.382" fill="#111" />
<text x="556" y="156.95" font-family="'Liberation Sans','Noto Sans CJK SC',sans-serif" font-size="13.2" font-weight="bold" fill="#1c1c1c">配线</text>
<text x="583.5" y="156.62" font-family="'Liberation Sans','Noto Sans CJK SC',sans-serif" font-size="12.3" font-weight="500" fill="#1c1c1c">子系统</text>
<line x1="566" y1="156" x2="548.083" y2="171.304" stroke="#111" stroke-width="1.3"/>
<polygon points="542,176.5 546.005,168.871 550.161,173.737" fill="#111" />
<text x="546" y="218.3" font-family="'Liberation Sans','Noto Sans CJK SC',sans-serif" font-size="12.5" font-weight="500" fill="#1c1c1c">垂直子系统</text>
<line x1="560" y1="219" x2="541.759" y2="233.518" stroke="#111" stroke-width="1.3"/>
<polygon points="535.5,238.5 539.767,231.014 543.752,236.022" fill="#111" />
<text x="250" y="313.42" font-family="'Liberation Sans','Noto Sans CJK SC',sans-serif" font-size="12.3" font-weight="500" fill="#1c1c1c">管理间子系统</text>
<path d="M324 310.5 L334 313" fill="none" stroke="#111" stroke-width="1.3" />
<line x1="330" y1="312" x2="340.727" y2="314.609" stroke="#111" stroke-width="1.3"/>
<polygon points="348.5,316.5 339.97,317.719 341.483,311.5" fill="#111" />
<text x="681" y="332.71" font-family="'Liberation Sans','Noto Sans CJK SC',sans-serif" font-size="12.4" font-weight="500" fill="#1c1c1c">工作区子系统</text>
<line x1="705" y1="342.5" x2="687.278" y2="359.467" stroke="#111" stroke-width="1.3"/>
<polygon points="681.5,365 685.065,357.156 689.491,361.779" fill="#111" />
<text x="586" y="415.91" font-family="'Liberation Sans','Noto Sans CJK SC',sans-serif" font-size="12.4" font-weight="500" fill="#1c1c1c">设备间子系统</text>
<text x="699" y="464.27" font-family="'Liberation Sans','Noto Sans CJK SC',sans-serif" font-size="11.9" font-weight="500" fill="#1c1c1c">进线间</text>
<text x="699" y="478.97" font-family="'Liberation Sans','Noto Sans CJK SC',sans-serif" font-size="11.9" font-weight="500" fill="#1c1c1c">子系统</text>
<line x1="715" y1="452.5" x2="729.912" y2="437.225" stroke="#111" stroke-width="1.3"/>
<polygon points="735.5,431.5 732.202,439.46 727.622,434.989" fill="#111" />
<text x="762" y="522.42" font-family="'Liberation Sans','Noto Sans CJK SC',sans-serif" font-size="12.3" font-weight="500" fill="#1c1c1c">建筑物子系统</text>
<line x1="790.7" y1="504" x2="775.416" y2="490.086" stroke="#111" stroke-width="1.3"/>
<polygon points="769.5,484.7 777.57,487.719 773.262,492.452" fill="#111" />
</g>
</svg>
</body></html>
